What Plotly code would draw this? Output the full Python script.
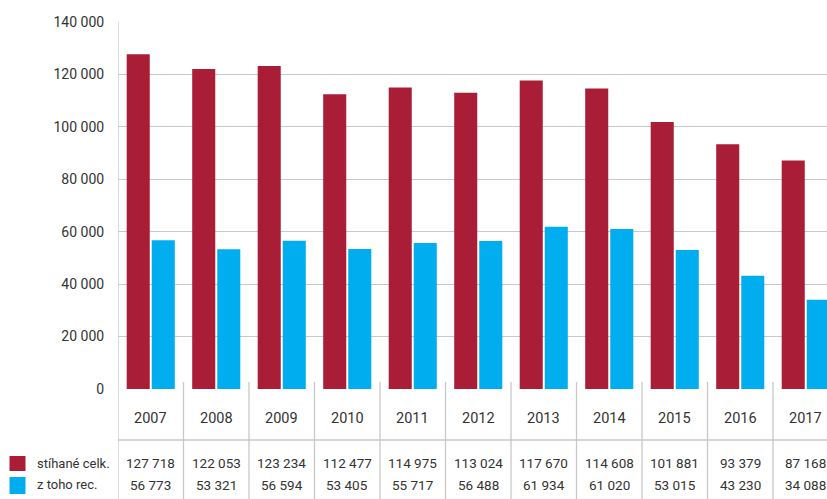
import plotly.graph_objects as go

years = ["2007", "2008", "2009", "2010", "2011", "2012", "2013", "2014", "2015", "2016", "2017"]
stihane_celk = [127718, 122053, 123234, 112477, 114975, 113024, 117670, 114608, 101881, 93379, 87168]
z_toho_rec = [56773, 53321, 56594, 53405, 55717, 56488, 61934, 61020, 53015, 43230, 34088]
series_names = ["stíhané celk.", "z toho rec."]
tick_vals = [0, 20000, 40000, 60000, 80000, 100000, 120000, 140000]
tick_text = ["0", "20 000", "40 000", "60 000", "80 000", "100 000", "120 000", "140 000"]

RED = "#A91D37"
BLUE = "#00AEEF"
GRID = "#c8c8c8"
TXT = "#333333"
FONT = "Roboto, Liberation Sans, sans-serif"

W, H = 827, 499
ML, MR, MT, MB = 118, 0, 22, 110
PW = W - ML - MR
PH = H - MT - MB
COLW = 65.5


def fmt(v):
    return f"{v:,}".replace(",", " ")


def py(px_below_axis):
    # pixel offset below the zero line -> paper y
    return -px_below_axis / PH


def px_x(px):
    return (px - ML) / PW


fig = go.Figure()
fig.add_bar(x=years, y=stihane_celk, name=series_names[0], marker_color=RED,
            marker_line_width=0, showlegend=False, hoverinfo="skip")
fig.add_bar(x=years, y=z_toho_rec, name=series_names[1], marker_color=BLUE,
            marker_line_width=0, showlegend=False, hoverinfo="skip")

shapes = []
# vertical separators (table grid + left axis)
for i in range(len(years) + 1):
    shapes.append(dict(type="line", xref="x", yref="paper",
                       x0=i - 0.5, x1=i - 0.5,
                       y0=(7 / PH) if i > 0 else 1, y1=py(MB + 2),
                       line=dict(color=GRID, width=1.3), layer="above"))
# horizontal line between year row and values
shapes.append(dict(type="line", xref="paper", yref="paper",
                   x0=0, x1=1.02, y0=py(51), y1=py(51),
                   line=dict(color=GRID, width=1.3)))
# legend squares
shapes.append(dict(type="rect", xref="paper", yref="paper",
                   x0=px_x(9.5), x1=px_x(25.5), y0=py(456 - 389), y1=py(471 - 389),
                   fillcolor=RED, line_width=0))
shapes.append(dict(type="rect", xref="paper", yref="paper",
                   x0=px_x(9.5), x1=px_x(25.5), y0=py(477 - 389), y1=py(494 - 389),
                   fillcolor=BLUE, line_width=0))

annotations = []
for i, yr in enumerate(years):
    annotations.append(dict(x=i, xref="x", y=py(418 - 389), yref="paper",
                            text=yr, showarrow=False, xanchor="center", yanchor="middle",
                            font=dict(size=14.5, color=TXT, family=FONT)))
    annotations.append(dict(x=i, xref="x", y=py(463 - 389), yref="paper",
                            text=fmt(stihane_celk[i]), showarrow=False, xanchor="center",
                            yanchor="middle", font=dict(size=13.5, color=TXT, family=FONT)))
    annotations.append(dict(x=i, xref="x", y=py(485 - 389), yref="paper",
                            text=fmt(z_toho_rec[i]), showarrow=False, xanchor="center",
                            yanchor="middle", font=dict(size=13.5, color=TXT, family=FONT)))
annotations.append(dict(x=px_x(35), xref="paper", y=py(463 - 389), yref="paper",
                        text=series_names[0], showarrow=False, xanchor="left", yanchor="middle",
                        font=dict(size=13, color=TXT, family=FONT)))
annotations.append(dict(x=px_x(35), xref="paper", y=py(485 - 389), yref="paper",
                        text=series_names[1], showarrow=False, xanchor="left", yanchor="middle",
                        font=dict(size=13, color=TXT, family=FONT)))

fig.update_layout(
    width=W, height=H,
    margin=dict(l=ML, r=MR, t=MT, b=MB, pad=0),
    paper_bgcolor="white", plot_bgcolor="white",
    barmode="group", bargap=0.235, bargroupgap=0.08,
    font=dict(family=FONT, size=14, color=TXT),
    shapes=shapes, annotations=annotations,
    xaxis=dict(type="category", range=[-0.5, -0.5 + PW / COLW], showticklabels=False,
               showgrid=False, zeroline=False, showline=False, ticks=""),
    yaxis=dict(range=[0, 140000], tickvals=tick_vals, ticktext=tick_text,
               showgrid=True, gridcolor=GRID, gridwidth=1.3, zeroline=False,
               showline=False, ticks="outside", ticklen=10, tickcolor="rgba(0,0,0,0)",
               tickfont=dict(size=14, color=TXT, family=FONT)),
)

fig.write_html("out.html", config={"displayModeBar": False},
               post_script="document.body.style.margin='0';document.body.style.overflow='hidden';")
